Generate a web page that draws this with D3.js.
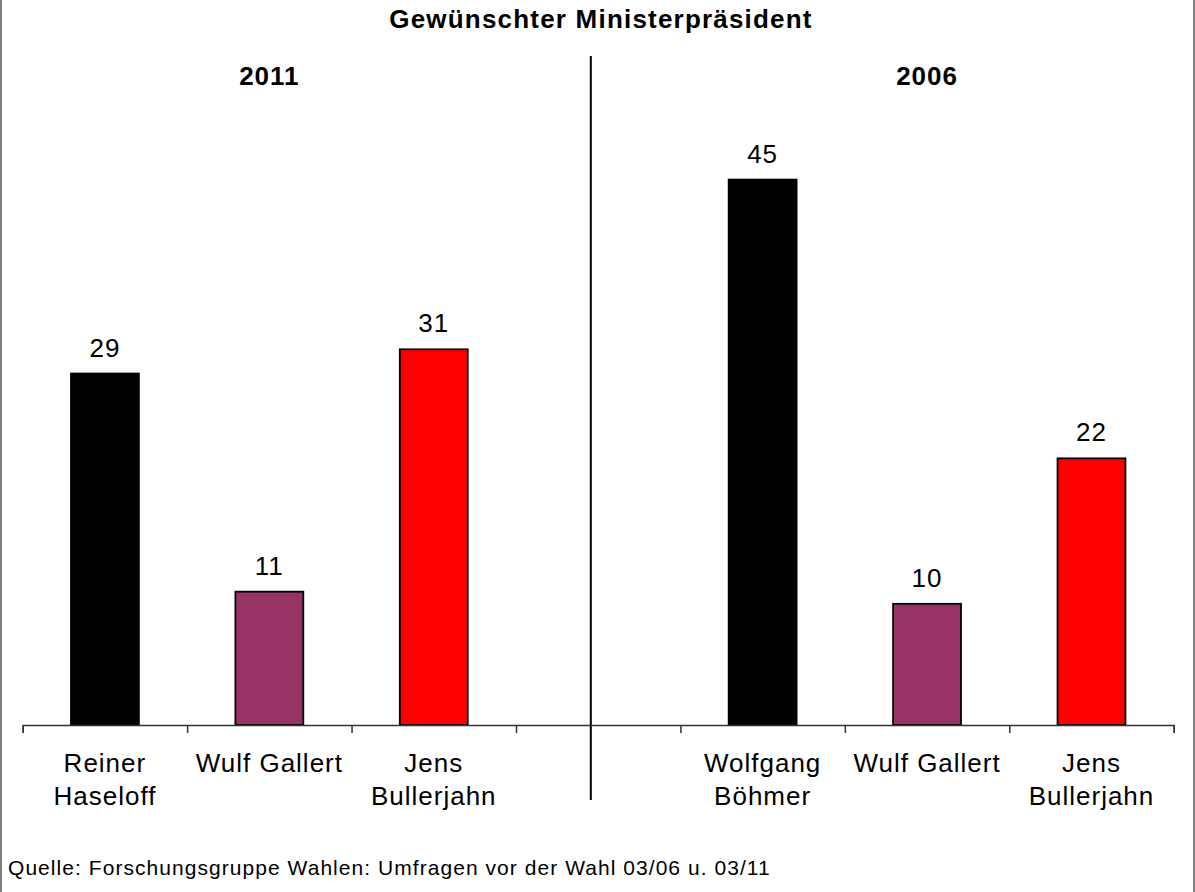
<!DOCTYPE html>
<html>
<head>
<meta charset="utf-8">
<script src="https://cdn.jsdelivr.net/npm/d3@7"></script>
<style>
  html, body { margin: 0; padding: 0; background: #fff; }
  svg { display: block; }
  text { font-family: "Liberation Sans", Arial, sans-serif; fill: #000; }
</style>
</head>
<body>
<svg id="chart" width="1195" height="892"></svg>
<script>
// ---- data ----
const title = "Gewünschter Ministerpräsident";
const years = ["2011", "2006"];
const candidates2011 = [["Reiner", "Haseloff"], ["Wulf Gallert"], ["Jens", "Bullerjahn"]];
const values2011 = [29, 11, 31];
const candidates2006 = [["Wolfgang", "Böhmer"], ["Wulf Gallert"], ["Jens", "Bullerjahn"]];
const values2006 = [45, 10, 22];
const partyColors = ["#000000", "#993366", "#FF0000"];
const source = "Quelle: Forschungsgruppe Wahlen: Umfragen vor der Wahl 03/06 u. 03/11";

// build slot table: 3 bars, 1 empty gap slot, 3 bars
const slots = [];
candidates2011.forEach((c, i) => slots.push({ label: c, value: values2011[i], color: partyColors[i] }));
slots.push({ label: [], value: null, color: null });
candidates2006.forEach((c, i) => slots.push({ label: c, value: values2006[i], color: partyColors[i] }));

const svg = d3.select("#chart");
const W = 1195, H = 892;

const x0 = 22.7, x1 = 1173.7, baseY = 725;
const xIdx = d3.scaleLinear().domain([0, slots.length]).range([x0, x1]);
const step = xIdx(1) - xIdx(0);
const barW = step * 0.413;
const y = d3.scaleLinear().domain([0, 45]).range([baseY, baseY - 545.4]);

// frame
svg.append("line").attr("x1", 1).attr("x2", 1).attr("y1", 0).attr("y2", H)
  .attr("stroke", "#7f7f7f").attr("stroke-width", 2);
svg.append("line").attr("x1", 1194).attr("x2", 1194).attr("y1", 0).attr("y2", H)
  .attr("stroke", "#7f7f7f").attr("stroke-width", 2);

// title
svg.append("text").attr("x", 601).attr("y", 28).attr("text-anchor", "middle")
  .attr("font-size", 26).attr("font-weight", "bold").attr("letter-spacing", 1.2)
  .text(title);

// bars
const barData = slots.map((d, i) => ({ ...d, i })).filter(d => d.value != null);
svg.append("g").selectAll("rect").data(barData).join("rect")
  .attr("x", d => xIdx(d.i + 0.5) - barW / 2)
  .attr("y", d => y(d.value))
  .attr("width", barW)
  .attr("height", d => y(0) - y(d.value))
  .attr("fill", d => d.color)
  .attr("stroke", "#000").attr("stroke-width", 1.8);

// value labels
svg.append("g").selectAll("text").data(barData).join("text")
  .attr("x", d => xIdx(d.i + 0.5))
  .attr("y", d => y(d.value) - 17)
  .attr("text-anchor", "middle")
  .attr("font-size", 26).attr("letter-spacing", 1)
  .text(d => d.value);

// axis
const axis = d3.axisBottom(xIdx).tickValues(d3.range(0, slots.length + 1))
  .tickSize(8).tickFormat("");
const ax = svg.append("g").attr("transform", `translate(0,${baseY})`).call(axis);
ax.selectAll("path,line").attr("stroke", "#333").attr("stroke-width", 1.5);

// category labels
const lab = svg.append("g").selectAll("text").data(slots.map((d, i) => ({ ...d, i }))).join("text")
  .attr("x", d => xIdx(d.i + 0.5))
  .attr("y", 772)
  .attr("text-anchor", "middle")
  .attr("font-size", 26).attr("letter-spacing", 1);
lab.selectAll("tspan").data(d => d.label.map((t, k) => ({ t, k, x: xIdx(d.i + 0.5) }))).join("tspan")
  .attr("x", d => d.x)
  .attr("dy", d => d.k === 0 ? 0 : 33.3)
  .text(d => d.t);

// year labels (centered over each group's middle bar)
const yearCenters = [1.5, 5.5];
svg.append("g").selectAll("text").data(years).join("text")
  .attr("x", (d, i) => xIdx(yearCenters[i]))
  .attr("y", 85)
  .attr("text-anchor", "middle")
  .attr("font-size", 26).attr("font-weight", "bold").attr("letter-spacing", 1)
  .text(d => d);

// separator
const sepPos = 3.455;
svg.append("line").attr("x1", xIdx(sepPos)).attr("x2", xIdx(sepPos))
  .attr("y1", 56).attr("y2", 800)
  .attr("stroke", "#000").attr("stroke-width", 2);

// source
svg.append("text").attr("x", 8).attr("y", 875)
  .attr("font-size", 21).attr("letter-spacing", 1.05)
  .text(source);
</script>
</body>
</html>
